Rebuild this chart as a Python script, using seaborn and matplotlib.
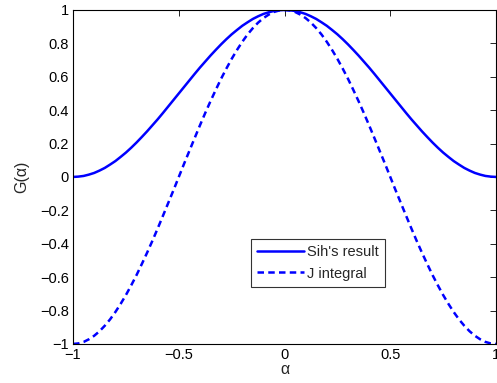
import numpy as np
import pandas as pd
import matplotlib
matplotlib.use('Agg')
import matplotlib.pyplot as plt
import seaborn as sns

# values, alpha from 0 to 1 (both curves are symmetric)
alpha_half = [0.0, 0.025, 0.05, 0.075, 0.1, 0.125, 0.15, 0.175, 0.2, 0.225,
              0.25, 0.275, 0.3, 0.325, 0.35, 0.375, 0.4, 0.425, 0.45, 0.475,
              0.5, 0.525, 0.55, 0.575, 0.6, 0.625, 0.65, 0.675, 0.7, 0.725,
              0.75, 0.775, 0.8, 0.825, 0.85, 0.875, 0.9, 0.925, 0.95, 0.975, 1.0]
sih_half = [1.0, 0.998, 0.994, 0.986, 0.976, 0.962, 0.946, 0.926, 0.905, 0.880,
            0.854, 0.825, 0.794, 0.761, 0.727, 0.691, 0.655, 0.617, 0.578, 0.539,
            0.5, 0.461, 0.422, 0.383, 0.345, 0.309, 0.273, 0.239, 0.206, 0.175,
            0.146, 0.120, 0.095, 0.074, 0.054, 0.038, 0.024, 0.014, 0.006, 0.002, 0.0]
jint_half = [1.0, 0.997, 0.988, 0.972, 0.951, 0.924, 0.891, 0.853, 0.809, 0.760,
             0.707, 0.649, 0.588, 0.522, 0.454, 0.383, 0.309, 0.233, 0.156, 0.079,
             0.0, -0.079, -0.156, -0.233, -0.309, -0.383, -0.454, -0.522, -0.588, -0.649,
             -0.707, -0.760, -0.809, -0.853, -0.891, -0.924, -0.951, -0.972, -0.988, -0.997, -1.0]

alpha = [-a for a in alpha_half[:0:-1]] + alpha_half
sih = sih_half[:0:-1] + sih_half
jint = jint_half[:0:-1] + jint_half

df = pd.DataFrame({
    'alpha': alpha * 2,
    'G': sih + jint,
    'curve': ["Sih's result"] * len(alpha) + ['J integral'] * len(alpha),
})

sns.set_style('white')
plt.rcParams['font.family'] = ['Liberation Sans', 'DejaVu Sans']

fig = plt.figure(figsize=(4.97, 3.83), dpi=100)
ax = fig.add_axes([0.147, 0.102, 0.851, 0.872])
sns.lineplot(data=df, x='alpha', y='G', hue='curve', style='curve',
             palette=['#0000ff', '#0000ff'], dashes=[(None, None), (2.6, 1.7)],
             linewidth=1.8, ax=ax, sort=False)

ax.set_xlim(-1, 1)
ax.set_ylim(-1, 1)
xt = [-1, -0.5, 0, 0.5, 1]
ax.set_xticks(xt)
ax.set_xticklabels([('\u2212' + f'{abs(v):g}') if v < 0 else f'{abs(v):g}' for v in xt])
yt = [-1, -0.8, -0.6, -0.4, -0.2, 0, 0.2, 0.4, 0.6, 0.8, 1]
ax.set_yticks(yt)
ax.set_yticklabels([('\u2212' + f'{abs(v):g}') if v < 0 else f'{abs(v):g}' for v in yt])
ax.tick_params(direction='in', length=4, width=0.6, top=True, right=True,
               labelsize=10.5, colors='black', pad=3)
for s in ax.spines.values():
    s.set_visible(True)
    s.set_color('black')
    s.set_linewidth(0.8)
ax.set_xlabel('\u03b1', fontsize=11.5, labelpad=0)
ax.set_ylabel('G(\u03b1)', fontsize=11.5, labelpad=8)

leg = ax.legend(loc='lower left', bbox_to_anchor=(0.42, 0.17), fontsize=10.5,
                frameon=True, fancybox=False, edgecolor='black', borderpad=0.45,
                handlelength=3.2, handletextpad=0.2, labelspacing=0.5,
                borderaxespad=0)
leg.get_frame().set_linewidth(0.8)
for line in leg.get_lines():
    line.set_linewidth(1.8)

fig.savefig('out.png', dpi=100)
